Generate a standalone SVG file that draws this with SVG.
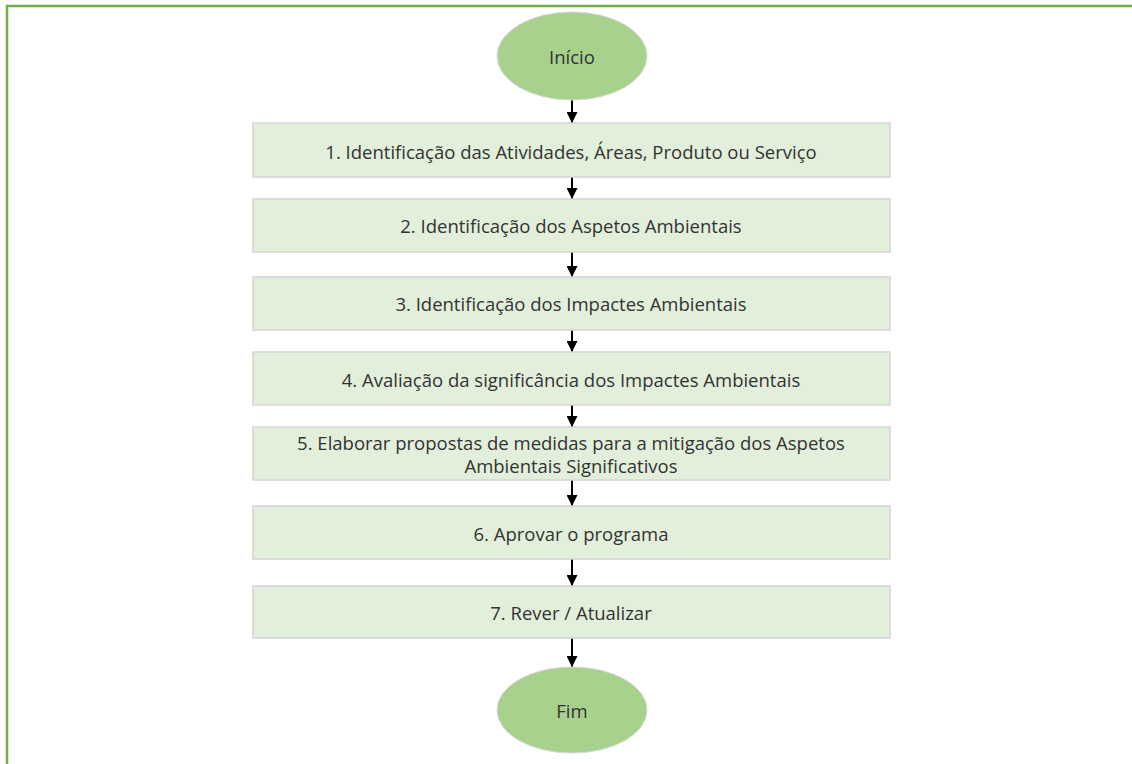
<svg xmlns="http://www.w3.org/2000/svg" width="1132" height="764" viewBox="0 0 1132 764">
  <style>
    .frame { fill: none; stroke: #70ad47; stroke-width: 2.5; }
    .term { fill: #a9d18e; stroke: #d6d6d6; stroke-width: 1; }
    .step { fill: #e2efda; stroke: #d4d4d4; stroke-width: 1.5; }
    .lbl { font-family: "Open Sans", "Liberation Sans", sans-serif; font-size: 18.5px; fill: #333333; text-anchor: middle; dominant-baseline: central; }
    .link { stroke: #000000; stroke-width: 2; fill: none; marker-end: url(#arrow); }
  </style>
  <defs>
    <marker id="arrow" viewBox="0 0 10 10" refX="10" refY="5" markerWidth="5.5" markerHeight="5.5" orient="auto" markerUnits="strokeWidth">
      <path d="M0,0 L10,5 L0,10 z" fill="#000000"/>
    </marker>
  </defs>
  <rect width="1132" height="764" fill="#ffffff"/>
  <path class="frame" d="M7,770 L7,6 L1140,6"/>

  <g id="connectors">
    <line class="link" x1="572" y1="100" x2="572" y2="123"/>
    <line class="link" x1="572" y1="177" x2="572" y2="199"/>
    <line class="link" x1="572" y1="252" x2="572" y2="277"/>
    <line class="link" x1="572" y1="330" x2="572" y2="352"/>
    <line class="link" x1="572" y1="405" x2="572" y2="427"/>
    <line class="link" x1="572" y1="480" x2="572" y2="506"/>
    <line class="link" x1="572" y1="559" x2="572" y2="586"/>
    <line class="link" x1="572" y1="638" x2="572" y2="667"/>
  </g>

  <g id="inicio">
    <ellipse class="term" cx="572" cy="56" rx="75" ry="44"/>
    <text class="lbl" x="572" y="56">Início</text>
  </g>
  <g id="step1">
    <rect class="step" x="253" y="123" width="637" height="54"/>
    <text class="lbl" x="571" y="151">1. Identificação das Atividades, Áreas, Produto ou Serviço</text>
  </g>
  <g id="step2">
    <rect class="step" x="253" y="199" width="637" height="53"/>
    <text class="lbl" x="571" y="225">2. Identificação dos Aspetos Ambientais</text>
  </g>
  <g id="step3">
    <rect class="step" x="253" y="277" width="637" height="53"/>
    <text class="lbl" x="571" y="303">3. Identificação dos Impactes Ambientais</text>
  </g>
  <g id="step4">
    <rect class="step" x="253" y="352" width="637" height="53"/>
    <text class="lbl" x="571" y="379">4. Avaliação da significância dos Impactes Ambientais</text>
  </g>
  <g id="step5">
    <rect class="step" x="253" y="427" width="637" height="53"/>
    <text class="lbl" x="571" y="442">5. Elaborar propostas de medidas para a mitigação dos Aspetos</text>
    <text class="lbl" x="571" y="465">Ambientais Significativos</text>
  </g>
  <g id="step6">
    <rect class="step" x="253" y="506" width="637" height="53"/>
    <text class="lbl" x="571" y="533">6. Aprovar o programa</text>
  </g>
  <g id="step7">
    <rect class="step" x="253" y="586" width="637" height="52"/>
    <text class="lbl" x="571" y="612">7. Rever / Atualizar</text>
  </g>
  <g id="fim">
    <ellipse class="term" cx="572" cy="710" rx="75" ry="43"/>
    <text class="lbl" x="572" y="710">Fim</text>
  </g>
</svg>
